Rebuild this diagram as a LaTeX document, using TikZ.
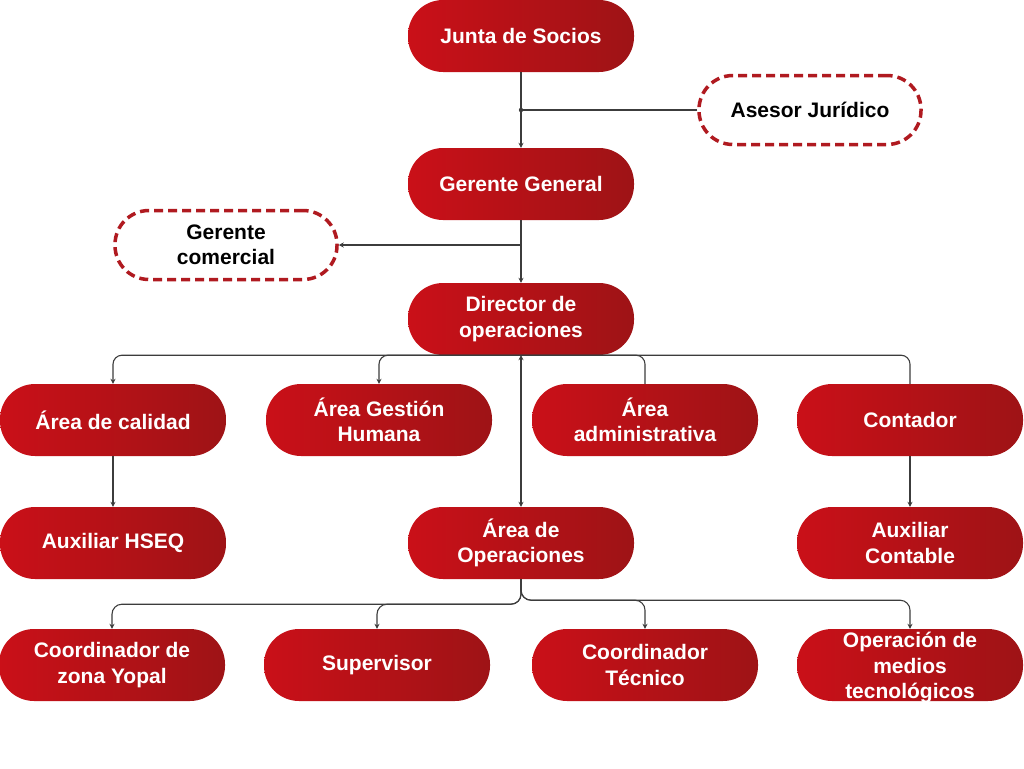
\documentclass[tikz,border=0pt]{standalone}
\usepackage{fontspec}
\setmainfont{Liberation Sans}
\usetikzlibrary{arrows.meta}
\definecolor{redL}{RGB}{202,16,24}
\definecolor{redR}{RGB}{158,19,22}
\definecolor{dashred}{RGB}{176,26,32}
\definecolor{lineg}{RGB}{60,60,60}
\tikzset{
  pfont/.style={font=\fontsize{21}{25.5}\selectfont\bfseries},
  pill/.style={rectangle, rounded corners=35pt, minimum width=226pt, minimum height=72pt,
    inner sep=0pt, left color=redL, right color=redR, text=white, align=center, pfont},
  dpill/.style={rectangle, rounded corners=34pt, minimum width=222pt, minimum height=69pt,
    inner sep=0pt, draw=dashred, line width=3.5pt, dash pattern=on 9pt off 5pt, fill=white,
    text=black, align=center, pfont},
  conn/.style={draw=lineg, line width=1.1pt},
  tip/.style={-{Stealth[length=5pt,width=5pt]}},
}
\begin{document}
\begin{tikzpicture}[x=1pt,y=-1pt]
\useasboundingbox (0,0) rectangle (1024,768);
% nodes
\node[pill] (junta) at (521,36) {Junta de Socios};
\node[dpill] (asesor) at (810,110) {Asesor Jurídico};
\node[pill] (gg) at (521,184) {Gerente General};
\node[dpill] (gc) at (226,245) {Gerente\\comercial};
\node[pill] (dir) at (521,319) {Director de\\operaciones};
\node[pill] (cal) at (113,420) {Área de calidad};
\node[pill] (gh) at (379,420) {Área Gestión\\Humana};
\node[pill] (adm) at (645,420) {Área\\administrativa};
\node[pill] (cont) at (910,420) {Contador};
\node[pill] (hseq) at (113,543) {Auxiliar HSEQ};
\node[pill] (ops) at (521,543) {Área de\\Operaciones};
\node[pill] (auxc) at (910,543) {Auxiliar\\Contable};
\node[pill] (czy) at (112,665) {Coordinador de\\zona Yopal};
\node[pill] (sup) at (377,665) {Supervisor};
\node[pill] (ctec) at (645,665) {Coordinador\\Técnico};
\node[pill, label={[text=white,align=center,pfont,yshift=-3pt]center:Operación de\\medios\\tecnológicos}] (omt) at (910,665) {};
% coordinates
\coordinate (j1) at (junta.south |- asesor.west);
\coordinate (j2) at (gg.south |- gc.east);
% connectors
\draw[conn, tip] (junta.south) -- (gg.north);
\draw[conn] (asesor.west) -- (j1);
\fill[lineg] (j1) circle (2.2pt);
\draw[conn, tip] (gg.south) -- (dir.north);
\draw[conn, tip] (j2) -- (gc.east);
\draw[conn, tip, rounded corners=9pt] (dir.south) -| (cal.north);
\draw[conn, tip, rounded corners=9pt] (dir.south) -| (gh.north);
\draw[conn, rounded corners=9pt] (dir.south) -| (adm.north);
\draw[conn, rounded corners=9pt] (dir.south) -| (cont.north);
\draw[conn, {Stealth[length=5pt,width=5pt]}-{Stealth[length=5pt,width=5pt]}] (dir.south) -- (ops.north);
\draw[conn, tip] (cal.south) -- (hseq.north);
\draw[conn, tip] (cont.south) -- (auxc.north);
\draw[conn, tip, rounded corners=10pt] (ops.south) -- ++(0,25) -| (czy.north);
\draw[conn, tip, rounded corners=10pt] (ops.south) -- ++(0,25) -| (sup.north);
\draw[conn, tip, rounded corners=10pt] (ops.south) -- ++(0,21) -| (ctec.north);
\draw[conn, tip, rounded corners=10pt] (ops.south) -- ++(0,21) -| (omt.north);
\end{tikzpicture}
\end{document}
